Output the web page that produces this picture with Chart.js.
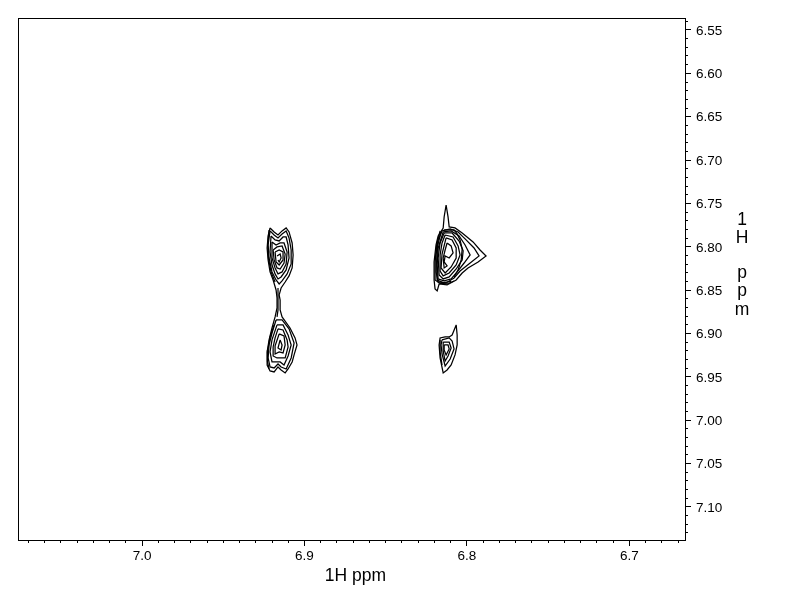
<!DOCTYPE html>
<html>
<head>
<meta charset="utf-8">
<title>1H ppm</title>
<script src="https://cdn.jsdelivr.net/npm/chart.js@4"></script>
<style>
  html, body { margin: 0; padding: 0; background: #fff; }
  canvas { display: block; }
</style>
</head>
<body>
<canvas id="spectrum" width="792" height="612"></canvas>
<script>
// axis ranges and tick labels, all in ppm
const xRange = [6.6657, 7.0764];
const yRange = [6.5362, 7.1381];
const xTickLabels = ["7.0", "6.9", "6.8", "6.7"];
const yTickLabels = ["6.55", "6.60", "6.65", "6.70", "6.75", "6.80", "6.85", "6.90", "6.95", "7.00", "7.05", "7.10"];
const xTitle = "1H ppm";
const yTitle = ["1", "H", "p", "p", "m"];

// contour levels, [F2 ppm, F1 ppm]
// left pair: outer level runs round both peaks and the thin neck between them
const pairOuter = [[6.9212,6.7783],[6.9187,6.7829],[6.9163,6.7864],[6.9138,6.7817],[6.9113,6.7783],[6.9095,6.7829],[6.9076,6.7956],[6.9070,6.8094],[6.9076,6.8244],[6.9095,6.8336],[6.9119,6.8406],[6.9144,6.8475],[6.9156,6.8555],[6.9150,6.8613],[6.9150,6.8728],[6.9138,6.8809],[6.9089,6.8936],[6.9058,6.9051],[6.9046,6.9132],[6.9064,6.9247],[6.9076,6.9328],[6.9101,6.9409],[6.9119,6.9455],[6.9144,6.9420],[6.9163,6.9386],[6.9187,6.9443],[6.9212,6.9432],[6.9230,6.9363],[6.9230,6.9213],[6.9218,6.9074],[6.9200,6.8936],[6.9181,6.8809],[6.9169,6.8705],[6.9169,6.8590],[6.9175,6.8498],[6.9193,6.8383],[6.9212,6.8290],[6.9224,6.8152],[6.9230,6.8014],[6.9224,6.7875],[6.9212,6.7783]];
const neckInner = [[6.9163,6.8475],[6.9163,6.8613],[6.9163,6.8728],[6.9169,6.8809]];
const upperA = [[6.9212,6.7817],[6.9187,6.7864],[6.9163,6.7898],[6.9138,6.7852],[6.9113,6.7817],[6.9095,6.7898],[6.9082,6.8037],[6.9082,6.8198],[6.9107,6.8313],[6.9138,6.8394],[6.9156,6.8429],[6.9175,6.8383],[6.9200,6.8290],[6.9218,6.8129],[6.9224,6.7979],[6.9212,6.7817]];
const upperB = [[6.9206,6.7875],[6.9181,6.7921],[6.9156,6.7933],[6.9132,6.7887],[6.9113,6.7887],[6.9101,6.7979],[6.9095,6.8129],[6.9113,6.8267],[6.9144,6.8348],[6.9163,6.8371],[6.9181,6.8313],[6.9200,6.8210],[6.9212,6.8060],[6.9206,6.7875]];
const upperC = [[6.9200,6.7944],[6.9175,6.7979],[6.9150,6.7956],[6.9126,6.7956],[6.9107,6.8060],[6.9113,6.8198],[6.9138,6.8290],[6.9163,6.8313],[6.9181,6.8244],[6.9200,6.8129],[6.9200,6.7944]];
const upperD = [[6.9193,6.8037],[6.9169,6.8002],[6.9138,6.7990],[6.9119,6.8083],[6.9126,6.8187],[6.9150,6.8256],[6.9169,6.8244],[6.9187,6.8152],[6.9193,6.8037]];
const upperE = [[6.9181,6.8060],[6.9156,6.8037],[6.9132,6.8060],[6.9132,6.8152],[6.9156,6.8210],[6.9175,6.8175],[6.9181,6.8060]];
const upperF = [[6.9169,6.8106],[6.9150,6.8083],[6.9144,6.8129],[6.9156,6.8175],[6.9163,6.8152]];
const upperEdge = [[6.9218,6.7806],[6.9226,6.7979],[6.9222,6.8129],[6.9206,6.8290],[6.9181,6.8406]];
const lowerA = [[6.9175,6.8844],[6.9138,6.8844],[6.9095,6.8947],[6.9064,6.9109],[6.9082,6.9282],[6.9113,6.9409],[6.9144,6.9386],[6.9163,6.9351],[6.9187,6.9397],[6.9212,6.9386],[6.9224,6.9282],[6.9218,6.9132],[6.9200,6.8994],[6.9175,6.8844]];
const lowerB = [[6.9169,6.8901],[6.9132,6.8901],[6.9101,6.9017],[6.9082,6.9132],[6.9101,6.9259],[6.9126,6.9363],[6.9150,6.9328],[6.9175,6.9328],[6.9200,6.9328],[6.9212,6.9213],[6.9200,6.9074],[6.9169,6.8901]];
const lowerC = [[6.9163,6.8947],[6.9132,6.8959],[6.9107,6.9074],[6.9101,6.9155],[6.9119,6.9282],[6.9144,6.9282],[6.9169,6.9282],[6.9193,6.9259],[6.9193,6.9155],[6.9181,6.9051],[6.9163,6.8947]];
const lowerD = [[6.9156,6.9005],[6.9126,6.9028],[6.9119,6.9132],[6.9132,6.9224],[6.9156,6.9213],[6.9181,6.9236],[6.9181,6.9143],[6.9156,6.9005]];
const lowerE = [[6.9150,6.9074],[6.9138,6.9132],[6.9144,6.9190],[6.9163,6.9167],[6.9150,6.9074]];
const lowerEdge = [[6.9187,6.8901],[6.9212,6.9040],[6.9226,6.9190],[6.9228,6.9328],[6.9218,6.9409]];
// right top peak with its spike, thick on the left, long tail to the right
const rightA = [[6.8128,6.7518],[6.8116,6.7656],[6.8109,6.7771],[6.8073,6.7783],[6.8029,6.7841],[6.7962,6.7944],[6.7919,6.8037],[6.7882,6.8106],[6.7931,6.8175],[6.7993,6.8244],[6.8029,6.8302],[6.8066,6.8383],[6.8122,6.8440],[6.8171,6.8429],[6.8183,6.8509],[6.8196,6.8486],[6.8202,6.8383],[6.8202,6.8175],[6.8190,6.7979],[6.8177,6.7875],[6.8146,6.7783],[6.8140,6.7656],[6.8128,6.7518]];
const rightB = [[6.8153,6.7817],[6.8103,6.7794],[6.8054,6.7829],[6.8005,6.7921],[6.7956,6.8014],[6.7925,6.8106],[6.7980,6.8187],[6.8042,6.8279],[6.8079,6.8359],[6.8128,6.8417],[6.8177,6.8406],[6.8190,6.8290],[6.8190,6.8094],[6.8177,6.7921],[6.8153,6.7817]];
const rightC = [[6.8146,6.7829],[6.8097,6.7817],[6.8048,6.7875],[6.8011,6.7979],[6.7980,6.8094],[6.8017,6.8187],[6.8060,6.8290],[6.8097,6.8371],[6.8140,6.8394],[6.8177,6.8371],[6.8183,6.8210],[6.8177,6.8014],[6.8146,6.7829]];
const rightD = [[6.8140,6.7841],[6.8091,6.7841],[6.8048,6.7933],[6.8023,6.8048],[6.8029,6.8152],[6.8066,6.8256],[6.8109,6.8348],[6.8146,6.8371],[6.8171,6.8325],[6.8177,6.8129],[6.8165,6.7956],[6.8140,6.7841]];
const rightE = [[6.8134,6.7864],[6.8085,6.7887],[6.8054,6.7990],[6.8042,6.8094],[6.8066,6.8210],[6.8109,6.8302],[6.8146,6.8336],[6.8165,6.8279],[6.8165,6.8094],[6.8153,6.7956],[6.8134,6.7864]];
const rightF = [[6.8128,6.7898],[6.8091,6.7921],[6.8066,6.8014],[6.8066,6.8129],[6.8097,6.8233],[6.8134,6.8302],[6.8159,6.8244],[6.8153,6.8083],[6.8128,6.7898]];
const rightG = [[6.8122,6.7956],[6.8097,6.7990],[6.8085,6.8071],[6.8109,6.8129],[6.8134,6.8106],[6.8140,6.8175],[6.8122,6.8221],[6.8140,6.8244],[6.8146,6.8129],[6.8134,6.8037],[6.8122,6.7956]];
const rightEdgeA = [[6.8165,6.7817],[6.8186,6.7979],[6.8196,6.8175],[6.8196,6.8383],[6.8165,6.8423],[6.8122,6.8429],[6.8079,6.8394]];
const rightEdgeB = [[6.8159,6.7829],[6.8180,6.7990],[6.8186,6.8175],[6.8183,6.8383],[6.8146,6.8412],[6.8097,6.8400]];
const rightEdgeC = [[6.8140,6.7806],[6.8079,6.7806],[6.8060,6.7852],[6.8042,6.7921],[6.8029,6.8025],[6.8035,6.8152],[6.8054,6.8267],[6.8079,6.8348]];
// right bottom peak, small and slanted
const smallA = [[6.8066,6.8901],[6.8091,6.9017],[6.8109,6.9040],[6.8134,6.9040],[6.8165,6.9051],[6.8171,6.9132],[6.8165,6.9282],[6.8146,6.9455],[6.8122,6.9420],[6.8097,6.9363],[6.8073,6.9247],[6.8060,6.9132],[6.8060,6.9017],[6.8066,6.8901]];
const smallB = [[6.8153,6.9074],[6.8109,6.9051],[6.8091,6.9086],[6.8079,6.9178],[6.8103,6.9294],[6.8134,6.9375],[6.8153,6.9236],[6.8159,6.9132],[6.8153,6.9074]];
const smallC = [[6.8146,6.9098],[6.8109,6.9098],[6.8097,6.9167],[6.8116,6.9259],[6.8134,6.9317],[6.8146,6.9201],[6.8146,6.9098]];
const smallD = [[6.8140,6.9132],[6.8116,6.9132],[6.8109,6.9178],[6.8128,6.9247],[6.8140,6.9190],[6.8140,6.9132]];
const smallE = [[6.8165,6.9074],[6.8165,6.9213],[6.8153,6.9363]];

const contours = [
  pairOuter, neckInner, upperA, upperB, upperC, upperD, upperE, upperF, upperEdge,
  lowerA, lowerB, lowerC, lowerD, lowerE, lowerEdge,
  rightA, rightB, rightC, rightD, rightE, rightF, rightG, rightEdgeA, rightEdgeB, rightEdgeC,
  smallA, smallB, smallC, smallD, smallE
];

const tickFont = { family: "'Liberation Sans', Arial, sans-serif", size: 13.5 };

function matchLabel(labels, v) {
  return labels.find(l => Math.abs(parseFloat(l) - v) < 1e-6) || "";
}

// frame round the plot and the two axis titles (y one is stacked letter by letter)
const framePlugin = {
  id: "frame",
  afterDraw(chart) {
    const { ctx, chartArea: a } = chart;
    ctx.save();
    ctx.strokeStyle = "#000";
    ctx.lineWidth = 1;
    ctx.strokeRect(a.left + 0.5, a.top + 0.5, a.right - a.left, a.bottom - a.top);
    ctx.fillStyle = "#000";
    ctx.font = "17.5px 'Liberation Sans', Arial, sans-serif";
    ctx.textAlign = "center";
    ctx.textBaseline = "alphabetic";
    ctx.fillText(xTitle, 355.5, 581);
    const ys = [224.5, 243, 278, 296, 314.5];
    yTitle.forEach((t, i) => ctx.fillText(t, 742, ys[i]));
    ctx.restore();
  }
};

new Chart(document.getElementById("spectrum"), {
  type: "scatter",
  data: {
    datasets: contours.map(c => ({
      data: c,
      showLine: true,
      borderColor: "#000",
      borderWidth: 1.25,
      pointRadius: 0,
      tension: 0,
      fill: false
    }))
  },
  plugins: [framePlugin],
  options: {
    responsive: false,
    animation: false,
    layout: { padding: { left: 18, top: 18, right: 0, bottom: 0 } },
    plugins: { legend: { display: false }, tooltip: { enabled: false }, title: { display: false } },
    scales: {
      x: {
        type: "linear",
        reverse: true,
        min: xRange[0],
        max: xRange[1],
        afterFit(s) { s.height = 72; },
        border: { display: false },
        grid: {
          drawOnChartArea: false,
          tickLength: 6,
          tickColor: "#000",
          tickBorderDash: c => matchLabel(xTickLabels, c.tick.value) ? [] : [3, 100]
        },
        ticks: {
          stepSize: 0.01,
          includeBounds: false,
          autoSkip: false,
          maxRotation: 0,
          padding: 2,
          color: "#000",
          font: tickFont,
          callback: v => matchLabel(xTickLabels, v)
        }
      },
      y: {
        type: "linear",
        position: "right",
        reverse: true,
        min: yRange[0],
        max: yRange[1],
        afterFit(s) { s.width = 107; },
        border: { display: false },
        grid: {
          drawOnChartArea: false,
          tickLength: 6,
          tickColor: "#000",
          tickBorderDash: c => matchLabel(yTickLabels, c.tick.value) ? [] : [3, 100]
        },
        ticks: {
          stepSize: 0.01,
          includeBounds: false,
          autoSkip: false,
          padding: 5,
          labelOffset: 1,
          color: "#000",
          font: tickFont,
          callback: v => matchLabel(yTickLabels, v)
        }
      }
    }
  }
});
</script>
</body>
</html>
